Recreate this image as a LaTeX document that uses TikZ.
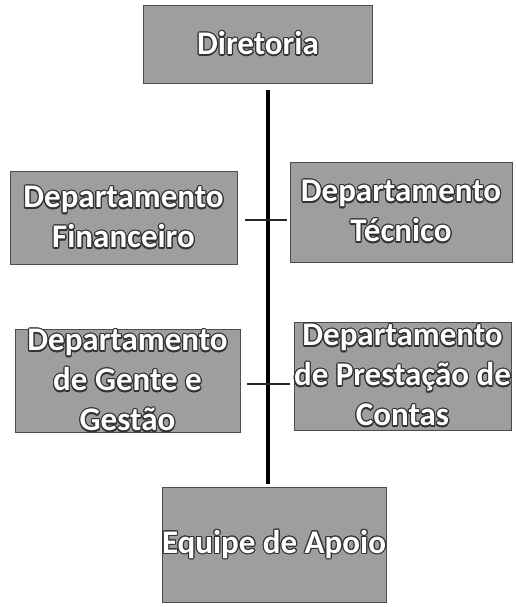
\documentclass[tikz,border=0pt]{standalone}
\usepackage{fontspec}
\setmainfont{Carlito}
\usepackage{contour}
\contourlength{1.2pt}
\contournumber{12}
\usepackage{tikz}
\usetikzlibrary{positioning, calc}

\tikzset{
  deptbox/.style={draw=black!70, line width=0.8pt, fill=black!38,
    align=center, inner sep=0pt, font=\fontsize{33}{40}\selectfont\bfseries},
  spine/.style={line width=3.5pt, black},
  tick/.style={line width=2.2pt, black!85}
}
\newcommand{\lbl}[1]{\contour{black!80}{\textcolor{white}{#1}}}

\begin{document}
\begin{tikzpicture}[x=1pt, y=1pt]
\useasboundingbox (0,0) rectangle (516,607);

\node (dir) [deptbox, minimum width=229pt, minimum height=78pt] at (258,563) {\lbl{Diretoria}};
\node (fin) [deptbox, minimum width=227pt, minimum height=93pt] at (123.5,389) {\lbl{Departamento}\\\lbl{Financeiro}};
\node (tec) [deptbox, minimum width=222pt, minimum height=100pt] at (401,395) {\lbl{Departamento}\\\lbl{Técnico}};
\node (gen) [deptbox, minimum width=225pt, minimum height=98pt] at (127.5,226) {\lbl{Departamento}\\\lbl{de Gente e}\\\lbl{Gestão}};
\node (pre) [deptbox, minimum width=215pt, minimum height=108pt] at (402.5,231) {\lbl{Departamento}\\\lbl{de Prestação de}\\\lbl{Contas}};
\node (apo) [deptbox, minimum width=222pt, minimum height=115pt] at (274,62) {\lbl{Equipe de Apoio}};

% eixo central
\coordinate (ax) at (268,0);
\coordinate (j1) at (268,387);
\coordinate (j2) at (268,223);
\draw[spine] ($(dir.south -| ax)+(0,-7)$) -- ($(apo.north -| ax)+(0,3)$);

% ligacoes laterais
\draw[tick] ([xshift=-23pt]j1) -- ([xshift=19pt]j1);
\draw[tick] ([xshift=-21pt]j2) -- ([xshift=22pt]j2);
\end{tikzpicture}
\end{document}
